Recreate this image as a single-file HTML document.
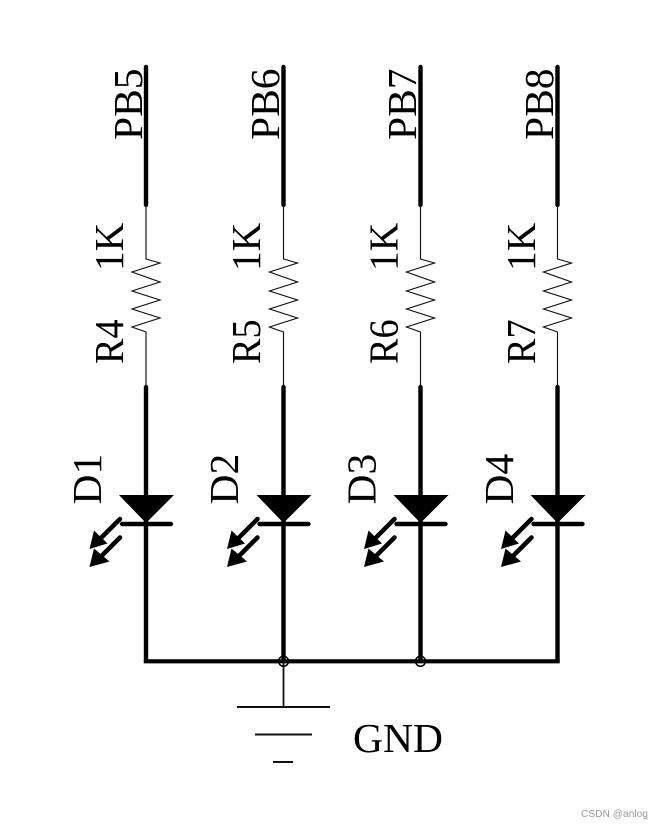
<!DOCTYPE html>
<html><head><meta charset="utf-8"><style>
html,body{margin:0;padding:0;background:#fff}
svg{display:block}
text{font-family:"Liberation Serif",serif;font-size:41.5px;fill:#000}
.th{stroke:#000;stroke-width:4.4;stroke-linecap:round;fill:none}
.tn{stroke:#111;stroke-width:1.15;fill:none}
.hd{fill:#000;stroke:none}
</style></head><body>
<svg width="663" height="829" viewBox="0 0 663 829" xmlns="http://www.w3.org/2000/svg">
<defs>
<g id="col">
<path class="th" d="M0 67V205"/>
<path class="tn" d="M0 205V259L14 263L-14 272L14 282L-14 291L14 300L-14 309L14 318L-14 327L0 332V385"/>
<path class="th" d="M0 387V661"/>
<path class="hd" d="M-27 495H28L0 523Z"/>
<path class="th" d="M-24 524H25"/>
<path d="M-26 519L-46 539M-26 537.500L-45 556.500" stroke="#000" stroke-width="4.500" stroke-linecap="round" fill="none"/>
<path class="hd" d="M-56.500 549L-52 530.500L-38.500 543.500Z"/>
<path class="hd" d="M-56.500 567L-52 548.500L-36.500 561.500Z"/>
</g>
</defs>
<use href="#col" x="146"/>
<use href="#col" x="283.500"/>
<use href="#col" x="420.500"/>
<use href="#col" x="557.500"/>
<path d="M143.800 661.300H559.700" stroke="#000" stroke-width="4.200" fill="none"/>
<circle cx="283.500" cy="661.300" r="5" fill="none" stroke="#000" stroke-width="1.500"/>
<circle cx="420.500" cy="661.300" r="5" fill="none" stroke="#000" stroke-width="1.500"/>
<path d="M283.500 661V707" stroke="#111" stroke-width="1.800" fill="none"/>
<path d="M237 707H330M255 734.500H312M273 762H293" stroke="#111" stroke-width="2" fill="none"/>

<text transform="translate(142 140) rotate(-90)">PB5</text>
<text transform="translate(279 140) rotate(-90)">PB6</text>
<text transform="translate(416 140) rotate(-90)">PB7</text>
<text transform="translate(553 140) rotate(-90)">PB8</text>
<text transform="translate(123 271) rotate(-90) scale(.95 1)">1K</text>
<text transform="translate(260 271) rotate(-90) scale(.95 1)">1K</text>
<text transform="translate(397.500 271) rotate(-90) scale(.95 1)">1K</text>
<text transform="translate(535 271) rotate(-90) scale(.95 1)">1K</text>
<text transform="translate(123 364) rotate(-90) scale(.92 1)">R4</text>
<text transform="translate(260 364) rotate(-90) scale(.92 1)">R5</text>
<text transform="translate(397.500 364) rotate(-90) scale(.92 1)">R6</text>
<text transform="translate(535 364) rotate(-90) scale(.92 1)">R7</text>
<text transform="translate(101 504.500) rotate(-90)">D1</text>
<text transform="translate(238 504.500) rotate(-90)">D2</text>
<text transform="translate(375.500 504.500) rotate(-90)">D3</text>
<text transform="translate(513 504.500) rotate(-90)">D4</text>
<text x="353" y="752">GND</text>
<text x="581" y="817" style="font-family:'Liberation Sans',sans-serif;font-size:10.200px;fill:#999">CSDN @anlog</text>
</svg>
</body></html>
